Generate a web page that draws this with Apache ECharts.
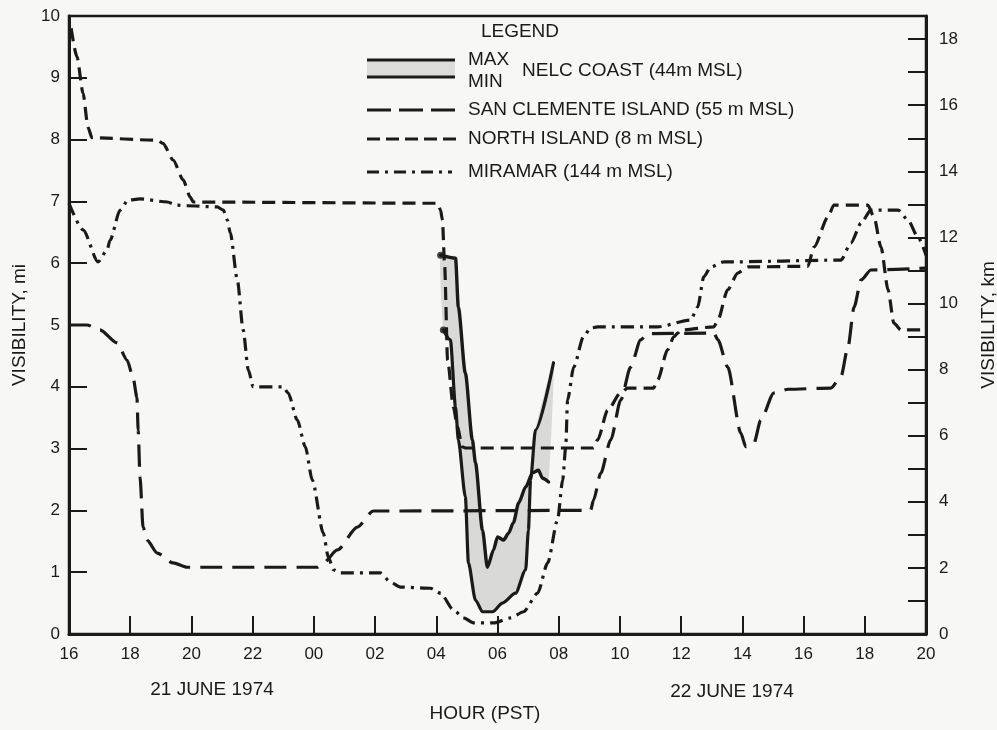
<!DOCTYPE html>
<html>
<head>
<meta charset="utf-8">
<script src="https://cdn.jsdelivr.net/npm/echarts@6/dist/echarts.min.js"></script>
<style>
  html, body { margin: 0; padding: 0; background: #f7f7f5; }
  #chart { width: 997px; height: 730px; }
</style>
</head>
<body>
<div id="chart"></div>
<script>
// Hours are counted from 16:00 PST on 21 June 1974 (0 .. 28).
const sanClementeHours = [0, 0.59, 1.01, 1.57, 1.90, 2.09, 2.22, 2.26, 2.32, 2.42, 2.55, 2.88, 3.40, 3.86, 8.11, 8.31, 8.77, 9.42, 9.94, 17.04, 17.14, 17.37, 17.70, 18.03, 18.35, 18.68, 18.91, 21.07, 21.20, 21.52, 21.95, 22.11, 22.38, 22.60, 23.03, 23.49, 24.89, 25.22, 25.45, 25.65, 25.88, 26.20, 28];
const sanClementeMi    = [5.0, 5.0, 4.92, 4.71, 4.43, 4.16, 3.83, 3.30, 2.54, 1.73, 1.52, 1.31, 1.15, 1.08, 1.08, 1.15, 1.36, 1.73, 1.99, 2.0, 2.17, 2.60, 3.14, 3.79, 4.32, 4.76, 4.86, 4.87, 4.76, 4.32, 3.25, 3.03, 3.09, 3.46, 3.90, 3.96, 3.98, 4.16, 4.64, 5.29, 5.73, 5.89, 5.92];

const northIslandHours = [0.07, 0.26, 0.46, 0.62, 0.75, 2.88, 3.07, 3.40, 3.73, 3.96, 4.06, 12.04, 12.14, 12.20, 12.27, 12.37, 12.56, 12.69, 12.85, 12.95, 17.14, 17.27, 17.60, 18.02, 18.25, 19.10, 19.23, 19.56, 19.76, 19.89, 19.99, 21.07, 21.20, 21.52, 21.85, 22.18, 24.14, 24.34, 24.80, 24.99, 26.10, 26.30, 26.53, 26.76, 26.95, 27.18, 27.84];
const northIslandMi    = [9.8, 9.34, 8.75, 8.2, 8.03, 7.99, 7.94, 7.67, 7.35, 7.07, 6.99, 6.97, 6.86, 6.7, 6.0, 4.43, 3.67, 3.35, 3.03, 3.01, 3.01, 3.14, 3.62, 3.90, 3.98, 3.98, 4.11, 4.60, 4.81, 4.87, 4.92, 4.97, 5.08, 5.57, 5.84, 5.94, 5.95, 6.26, 6.75, 6.94, 6.94, 6.75, 6.26, 5.57, 5.03, 4.92, 4.92];

const miramarHours = [0, 0.46, 0.95, 1.24, 1.34, 1.67, 1.93, 2.32, 3.21, 3.53, 3.86, 4.84, 5.04, 5.17, 5.27, 5.50, 5.69, 5.86, 6.02, 7.00, 7.16, 7.46, 7.72, 7.95, 8.31, 8.47, 8.64, 8.86, 10.17, 10.50, 10.83, 11.81, 12.14, 12.56, 12.89, 13.22, 13.87, 14.43, 14.85, 15.31, 15.64, 15.96, 16.13, 16.23, 16.29, 16.49, 16.81, 17.04, 17.27, 19.23, 20.31, 20.54, 20.74, 20.97, 21.39, 25.22, 25.55, 25.88, 26.20, 27.09, 27.41, 27.74, 28];
const miramarMi    = [6.97, 6.54, 6.02, 6.21, 6.37, 6.86, 7.02, 7.04, 6.99, 6.94, 6.93, 6.91, 6.86, 6.7, 6.49, 5.73, 4.92, 4.27, 4.0, 4.0, 3.9, 3.46, 3.03, 2.49, 1.63, 1.25, 1.04, 0.99, 0.99, 0.84, 0.76, 0.74, 0.66, 0.39, 0.26, 0.18, 0.18, 0.26, 0.36, 0.66, 1.15, 1.84, 2.49, 3.03, 3.79, 4.32, 4.81, 4.95, 4.97, 4.97, 5.08, 5.29, 5.78, 5.94, 6.02, 6.05, 6.33, 6.65, 6.86, 6.86, 6.7, 6.42, 6.13];

const nelcMaxHours = [12.14, 12.63, 12.72, 12.95, 13.18, 13.28, 13.51, 13.67, 13.87, 14.00, 14.20, 14.36, 14.52, 14.69, 14.92, 15.15, 15.34, 15.47, 15.67];
const nelcMaxMi    = [6.13, 6.08, 5.29, 4.22, 3.14, 2.77, 1.68, 1.08, 1.36, 1.57, 1.52, 1.63, 1.8, 2.12, 2.38, 2.61, 2.65, 2.52, 2.46];

const nelcMinHours = [12.23, 12.46, 12.63, 12.72, 12.95, 13.05, 13.28, 13.51, 13.84, 14.16, 14.59, 14.92, 15.01, 15.08, 15.24, 15.83];
const nelcMinMi    = [4.92, 4.76, 3.67, 3.14, 2.22, 1.15, 0.55, 0.36, 0.36, 0.5, 0.66, 1.04, 1.68, 2.49, 3.3, 4.39];

const hourAxisStart = 16;           // first tick is 16 PST
const kmAxisTop = 18.7;             // right-hand scale extent
const dateLabels = ['21 JUNE 1974', '22 JUNE 1974'];
const legendNames = ['NELC COAST (44m MSL)', 'SAN CLEMENTE ISLAND (55 m MSL)', 'NORTH ISLAND (8 m MSL)', 'MIRAMAR (144 m MSL)'];

const FONT = '"Liberation Sans", Arial, sans-serif';
const INK = '#1a1a1a';
const TEXT_SIZE = 19;
const TICK_SIZE = 17;
const pair = (xs, ys) => xs.map((x, i) => [x, ys[i]]);

const chart = echarts.init(document.getElementById('chart'), null, { renderer: 'canvas' });

const lineBase = {
  type: 'line', showSymbol: false, symbol: 'none', smooth: 0.25, smoothMonotone: 'x',
  silent: true, z: 3
};

const txt = (x, y, text, align) => ({
  type: 'text', x, y, silent: true,
  style: { text, fill: INK, fontSize: TEXT_SIZE, fontFamily: FONT, align: align || 'left', verticalAlign: 'middle' }
});
const seg = (x1, y1, x2, y2, dash) => ({
  type: 'line', silent: true,
  shape: { x1, y1, x2, y2 },
  style: { stroke: INK, lineWidth: 3, lineDash: dash || null }
});

chart.setOption({
  backgroundColor: '#f7f7f5',
  animation: false,
  grid: {
    left: 69, right: 71, top: 16, bottom: 96,
    show: true, borderColor: INK, borderWidth: 2.5,
    containLabel: false, outerBoundsMode: 'none'
  },
  xAxis: {
    type: 'value', min: 0, max: 28, interval: 2,
    axisLine: { lineStyle: { color: INK, width: 3 } },
    axisTick: { inside: true, length: 18, lineStyle: { color: INK, width: 2 } },
    splitLine: { show: false },
    axisLabel: {
      margin: 12, color: INK, fontSize: TICK_SIZE, fontFamily: FONT,
      formatter: v => String((hourAxisStart + v) % 24).padStart(2, '0')
    }
  },
  yAxis: [
    {
      type: 'value', min: 0, max: 10, interval: 1, position: 'left',
      name: 'VISIBILITY, mi', nameLocation: 'middle', nameRotate: 90, nameGap: 40,
      nameTextStyle: { color: INK, fontSize: TEXT_SIZE, fontFamily: FONT },
      axisLine: { show: true, lineStyle: { color: INK, width: 3 } },
      axisTick: { show: true, inside: true, length: 18, lineStyle: { color: INK, width: 2 } },
      splitLine: { show: false },
      axisLabel: { margin: 9, color: INK, fontSize: TICK_SIZE, fontFamily: FONT }
    },
    {
      type: 'value', min: 0, max: kmAxisTop, interval: 1, position: 'right',
      name: 'VISIBILITY, km', nameLocation: 'middle', nameRotate: 90, nameGap: 53,
      nameTextStyle: { color: INK, fontSize: TEXT_SIZE, fontFamily: FONT },
      axisLine: { show: true, lineStyle: { color: INK, width: 3 } },
      axisTick: { show: true, inside: true, length: 18, lineStyle: { color: INK, width: 2 } },
      splitLine: { show: false },
      axisLabel: {
        margin: 13, color: INK, fontSize: TICK_SIZE, fontFamily: FONT,
        formatter: v => (Math.abs(v - Math.round(v)) < 1e-6 && Math.round(v) % 2 === 0) ? String(Math.round(v)) : ''
      }
    }
  ],
  series: [
    {
      // shaded band between the NELC maximum and minimum traces
      type: 'custom', coordinateSystem: 'cartesian2d', silent: true, z: 1,
      data: [[nelcMaxHours[0], nelcMaxMi[0]]],
      renderItem: (params, api) => {
        const pts = nelcMaxHours.map((h, i) => api.coord([h, nelcMaxMi[i]]));
        for (let i = nelcMinHours.length - 1; i >= 0; i--) pts.push(api.coord([nelcMinHours[i], nelcMinMi[i]]));
        return { type: 'polygon', shape: { points: pts, smooth: 0.15 }, style: { fill: '#d9d9d7' } };
      }
    },
    Object.assign({}, lineBase, {
      name: 'NELC MAX', data: pair(nelcMaxHours, nelcMaxMi), z: 4,
      lineStyle: { color: INK, width: 3.4, cap: 'round', join: 'round' }
    }),
    Object.assign({}, lineBase, {
      name: 'NELC MIN', data: pair(nelcMinHours, nelcMinMi), z: 4,
      lineStyle: { color: INK, width: 3.2, cap: 'round', join: 'round' }
    }),
    {
      type: 'scatter', silent: true, z: 5, symbol: 'circle', symbolSize: 7,
      itemStyle: { color: INK },
      data: [[nelcMaxHours[0], nelcMaxMi[0]], [nelcMinHours[0], nelcMinMi[0]]]
    },
    Object.assign({}, lineBase, {
      name: legendNames[1], data: pair(sanClementeHours, sanClementeMi),
      lineStyle: { color: INK, width: 3.2, type: [22, 10], cap: 'butt' }
    }),
    Object.assign({}, lineBase, {
      name: legendNames[2], data: pair(northIslandHours, northIslandMi),
      lineStyle: { color: INK, width: 3.2, type: [13, 7], cap: 'butt' }
    }),
    Object.assign({}, lineBase, {
      name: legendNames[3], data: pair(miramarHours, miramarMi),
      lineStyle: { color: INK, width: 3.2, type: [13, 6, 3, 6], cap: 'butt' }
    })
  ],
  graphic: [
    txt(520, 32, 'LEGEND', 'center'),
    { type: 'rect', silent: true, shape: { x: 367, y: 60, width: 88, height: 17 }, style: { fill: '#dcdcda' } },
    seg(367, 60, 455, 60),
    seg(367, 77, 455, 77),
    txt(468, 60, 'MAX'),
    txt(468, 82, 'MIN'),
    txt(522, 71, legendNames[0]),
    seg(367, 110, 458, 110, [24, 8]),
    txt(468, 110, legendNames[1]),
    seg(367, 139, 458, 139, [13, 6]),
    txt(468, 139, legendNames[2]),
    seg(367, 172, 452, 172, [12, 6, 3, 6]),
    txt(468, 172, legendNames[3]),
    txt(212, 690, dateLabels[0], 'center'),
    txt(732, 692, dateLabels[1], 'center'),
    txt(485, 714, 'HOUR (PST)', 'center')
  ]
});
</script>
</body>
</html>
